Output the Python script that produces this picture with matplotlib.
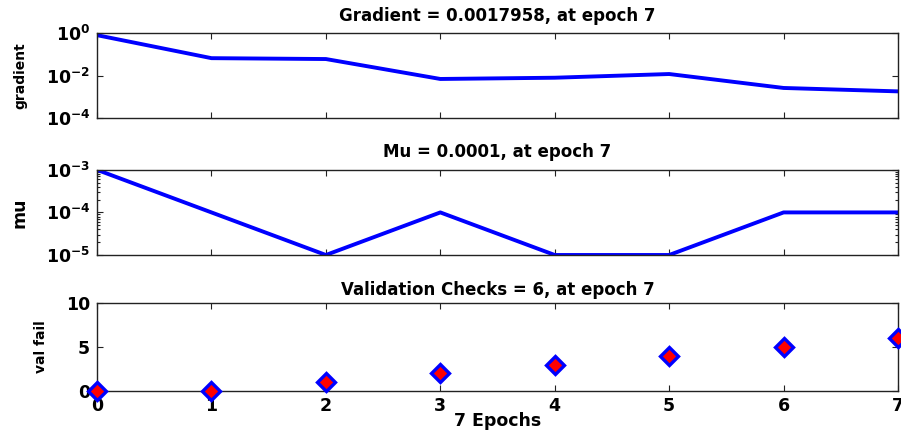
import matplotlib
matplotlib.use("Agg")
import matplotlib.pyplot as plt
from matplotlib.ticker import LogLocator, NullFormatter

plt.rcParams['font.family'] = ['DejaVu Sans']
plt.rcParams['font.weight'] = 'bold'
plt.rcParams['axes.unicode_minus'] = False
plt.rcParams['mathtext.fontset'] = 'custom'
plt.rcParams['mathtext.rm'] = 'DejaVu Sans:bold'
plt.rcParams['mathtext.bf'] = 'DejaVu Sans:bold'
plt.rcParams['mathtext.default'] = 'bf'

# data
epochs = [0, 1, 2, 3, 4, 5, 6, 7]
gradient = [0.8, 0.066, 0.06, 0.0069, 0.0079, 0.0118, 0.0026, 0.0017958]
mu = [1e-3, 1e-4, 1e-5, 1e-4, 1e-5, 1e-5, 1e-4, 1e-4]
val_fail = [0, 0, 1, 2, 3, 4, 5, 6]

titles = ['Gradient = 0.0017958, at epoch 7',
          'Mu = 0.0001, at epoch 7',
          'Validation Checks = 6, at epoch 7']

fig = plt.figure(figsize=(9.01, 4.30), dpi=100)
left, width = 0.1077, 0.889
ax1 = fig.add_axes([left, 0.7256, width, 0.1974])
ax2 = fig.add_axes([left, 0.407, width, 0.198])
ax3 = fig.add_axes([left, 0.0907, width, 0.2046])

def style(ax):
    ax.set_xlim(0, 7)
    ax.set_xticks(epochs)
    ax.tick_params(which='both', direction='in', top=True, right=True,
                   labelsize=12.5, width=0.8, color='#222222')
    ax.tick_params(which='major', length=4)
    ax.tick_params(which='minor', length=2)
    ax.tick_params(axis='y', pad=5)
    for s in ax.spines.values():
        s.set_linewidth(1.0)
        s.set_color('#222222')

# gradient
ax1.semilogy(epochs, gradient, color='#0000ff', lw=2.8)
ax1.set_ylim(1e-4, 1e0)
ax1.set_yticks([1e-4, 1e-2, 1e0])
ax1.yaxis.set_minor_locator(LogLocator(subs=[]))
ax1.set_ylabel('gradient', fontsize=10, fontweight='bold', labelpad=13)
ax1.set_title(titles[0], fontsize=12, fontweight='bold', pad=9)
style(ax1)
ax1.set_xticklabels([])

# mu
ax2.semilogy(epochs, mu, color='#0000ff', lw=2.8)
ax2.set_ylim(1e-5, 1e-3)
ax2.set_yticks([1e-5, 1e-4, 1e-3])
ax2.yaxis.set_minor_locator(LogLocator(subs=range(2, 10)))
ax2.yaxis.set_minor_formatter(NullFormatter())
ax2.set_ylabel('mu', fontsize=12.5, fontweight='bold', labelpad=12)
ax2.set_title(titles[1], fontsize=12, fontweight='bold', pad=9)
style(ax2)
ax2.set_xticklabels([])

# validation checks
ax3.plot(epochs, val_fail, linestyle='none', marker='D', markersize=9.5,
         markerfacecolor='#ff0000', markeredgecolor='#0000ff',
         markeredgewidth=2.4, clip_on=False, zorder=5)
ax3.set_ylim(0, 10)
ax3.set_yticks([0, 5, 10])
ax3.set_ylabel('val fail', fontsize=10, fontweight='bold', labelpad=13)
ax3.set_title(titles[2], fontsize=12, fontweight='bold', pad=6)
style(ax3)
ax3.tick_params(axis='x', pad=4)
ax3.set_xlabel('7 Epochs', fontsize=12.5, fontweight='bold', labelpad=-2)

fig.savefig('out.png', dpi=100)
